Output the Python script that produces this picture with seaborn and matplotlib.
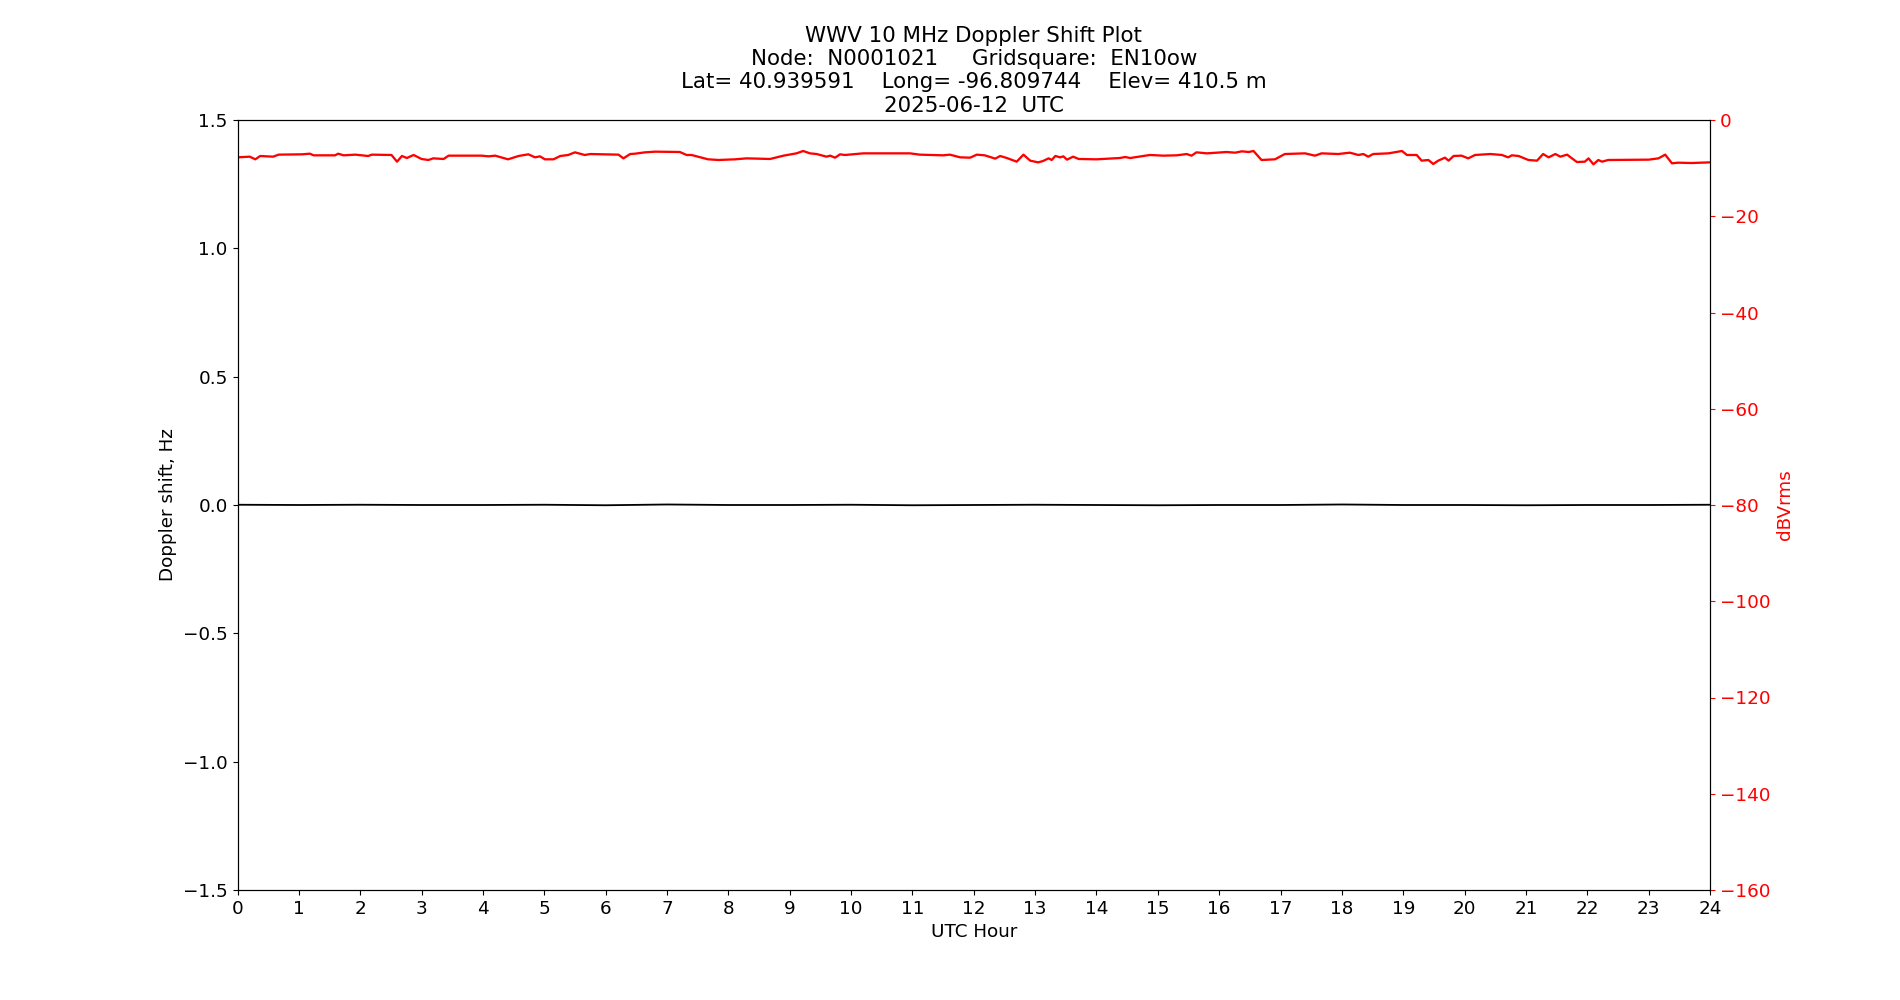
import pandas as pd
import matplotlib
matplotlib.use('Agg')
import matplotlib.pyplot as plt
import seaborn as sns

# Signal level (dBVrms)
level_hours = [0.0, 0.20, 0.29, 0.37, 0.58, 0.67, 1.05, 1.18, 1.24, 1.59, 1.64, 1.73, 1.92,
               2.13, 2.19, 2.51, 2.60, 2.68, 2.76, 2.87, 3.00, 3.11, 3.19, 3.36, 3.44, 3.98,
               4.09, 4.20, 4.41, 4.58, 4.74, 4.85, 4.93, 5.01, 5.15, 5.26, 5.39, 5.50, 5.66,
               5.75, 6.21, 6.29, 6.40, 6.48, 6.64, 6.81, 7.21, 7.32, 7.40, 7.67, 7.84, 8.11,
               8.30, 8.68, 8.90, 9.11, 9.22, 9.33, 9.44, 9.60, 9.66, 9.74, 9.82, 9.90, 10.20,
               10.96, 11.12, 11.50, 11.61, 11.78, 11.94, 12.05, 12.18, 12.35, 12.43, 12.54,
               12.70, 12.81, 12.92, 13.05, 13.13, 13.22, 13.27, 13.33, 13.41, 13.46, 13.52,
               13.62, 13.71, 14.00, 14.38, 14.47, 14.55, 14.87, 15.09, 15.31, 15.47, 15.55,
               15.63, 15.80, 16.12, 16.26, 16.37, 16.48, 16.56, 16.69, 16.91, 17.07, 17.40,
               17.56, 17.67, 17.94, 18.13, 18.27, 18.35, 18.43, 18.51, 18.76, 18.98, 19.06,
               19.22, 19.30, 19.41, 19.49, 19.57, 19.68, 19.74, 19.82, 19.95, 20.06, 20.17,
               20.42, 20.61, 20.71, 20.77, 20.88, 21.04, 21.18, 21.28, 21.37, 21.48, 21.56,
               21.67, 21.83, 21.96, 22.02, 22.10, 22.18, 22.24, 22.34, 23.00, 23.16, 23.27,
               23.38, 23.48, 23.70, 24.0]
level_db = [-7.76, -7.62, -8.17, -7.48, -7.62, -7.20, -7.13, -7.00, -7.34, -7.34, -7.00, -7.34, -7.20,
            -7.48, -7.20, -7.27, -8.66, -7.48, -7.90, -7.27, -8.10, -8.31, -7.97, -8.10, -7.41, -7.41,
            -7.55, -7.41, -8.17, -7.48, -7.13, -7.76, -7.55, -8.17, -8.17, -7.48, -7.27, -6.72, -7.27,
            -7.07, -7.20, -7.97, -7.07, -7.00, -6.72, -6.58, -6.65, -7.27, -7.27, -8.17, -8.31, -8.17,
            -7.97, -8.10, -7.41, -6.93, -6.44, -6.93, -7.07, -7.62, -7.41, -7.83, -7.13, -7.27, -6.93,
            -6.93, -7.20, -7.34, -7.20, -7.76, -7.83, -7.20, -7.34, -8.03, -7.48, -7.90,
            -8.66, -7.20, -8.45, -8.80, -8.52, -7.97, -8.31, -7.48, -7.76, -7.55, -8.24,
            -7.62, -8.10, -8.17, -7.90, -7.69, -7.90, -7.27, -7.41, -7.34, -7.07, -7.41,
            -6.72, -6.93, -6.65, -6.79, -6.51, -6.65, -6.44, -8.31, -8.17, -7.07, -6.93,
            -7.41, -6.93, -7.07, -6.79, -7.27, -7.07, -7.62, -7.07, -6.93, -6.44, -7.27,
            -7.27, -8.45, -8.31, -9.14, -8.45, -7.83, -8.45, -7.48, -7.41, -7.97, -7.27,
            -7.07, -7.27, -7.76, -7.34, -7.48, -8.31, -8.45, -7.07, -7.76, -7.07, -7.62,
            -7.20, -8.73, -8.66, -7.97, -9.21, -8.31, -8.66, -8.31, -8.24, -7.97, -7.20,
            -9.00, -8.87, -8.94, -8.80]

# Doppler shift (Hz), essentially flat at zero
doppler_hours = [0, 1, 2, 3, 4, 5, 6, 7, 8, 9, 10, 11, 12, 13, 14, 15, 16, 17, 18, 19, 20, 21, 22, 23, 24]
doppler_hz = [0.001, 0.000, 0.001, 0.000, 0.000, 0.001, -0.001, 0.002, 0.000, 0.000, 0.001, -0.001,
              0.000, 0.001, 0.000, -0.001, 0.000, 0.000, 0.002, 0.000, 0.000, -0.001, 0.000, 0.000, 0.001]

title = ('WWV 10 MHz Doppler Shift Plot\n'
         'Node:  N0001021     Gridsquare:  EN10ow\n'
         'Lat= 40.939591    Long= -96.809744    Elev= 410.5 m\n'
         '2025-06-12  UTC')

doppler_df = pd.DataFrame({'hour': doppler_hours, 'shift': doppler_hz})
level_df = pd.DataFrame({'hour': level_hours, 'db': level_db})

plt.rcParams['font.size'] = 13.2
fig, ax = plt.subplots(figsize=(19, 10), dpi=100)

sns.lineplot(data=doppler_df, x='hour', y='shift', color='black', linewidth=1.3, ax=ax)
ax.set_xlim(0, 24)
ax.set_ylim(-1.5, 1.5)
ax.set_xticks(range(0, 25))
ax.set_xlabel('UTC Hour')
ax.set_ylabel('Doppler shift, Hz')
ax.set_title(title, fontsize=15.4)

ax2 = ax.twinx()
sns.lineplot(data=level_df, x='hour', y='db', color='red', linewidth=1.65, ax=ax2)
ax2.set_ylim(-160, 0)
ax2.set_ylabel('dBVrms', color='red')
ax2.tick_params(axis='y', colors='red')

fig.savefig('out.png')
